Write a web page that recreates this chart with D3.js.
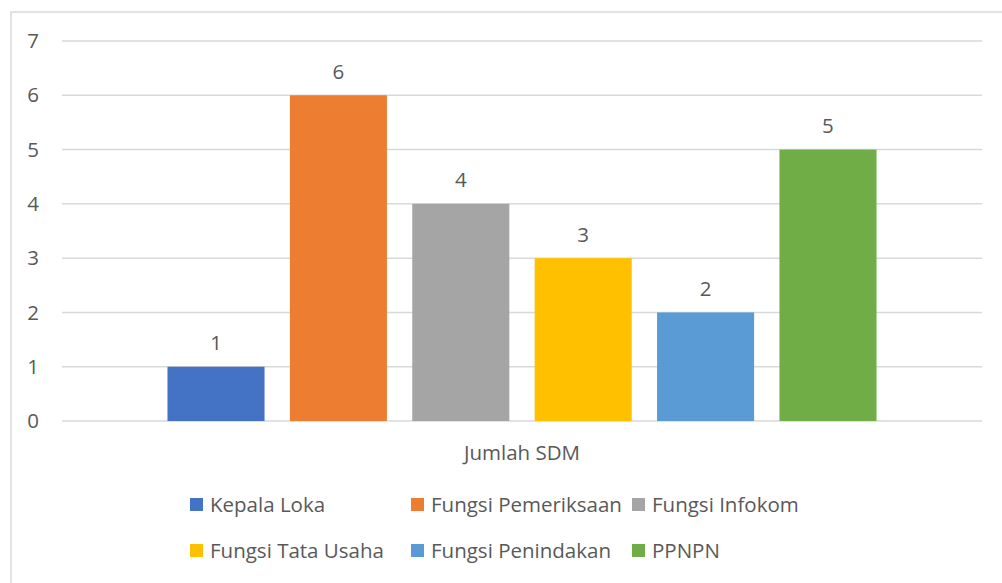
<!DOCTYPE html>
<html>
<head>
<meta charset="utf-8">
<script src="https://cdn.jsdelivr.net/npm/d3@7"></script>
<style>
  body { margin: 0; background: #fff; }
  svg { display: block; font-family: "Open Sans", "Noto Sans", sans-serif; }
</style>
</head>
<body>
<div id="chart"></div>
<script>
'use strict';

// data
const categories = ["Jumlah SDM"];
const seriesNames = ["Kepala Loka", "Fungsi Pemeriksaan", "Fungsi Infokom",
                     "Fungsi Tata Usaha", "Fungsi Penindakan", "PPNPN"];
const seriesValues = [1, 6, 4, 3, 2, 5];
const seriesColors = ["#4472c4", "#ed7d31", "#a5a5a5", "#ffc000", "#5b9bd5", "#70ad47"];
const yTicks = [0, 1, 2, 3, 4, 5, 6, 7];

const W = 1002, H = 583;
const textColor = "#595959";
const fontSize = "20.5px";

let svg = d3.select("#chart").append("svg")
    .attr("width", W)
    .attr("height", H);

// chart frame (only top and left edges fall inside the window)
svg.append("rect")
    .attr("x", 11).attr("y", 12)
    .attr("width", 1100).attr("height", 700)
    .attr("fill", "#fff")
    .attr("stroke", "#d9d9d9")
    .attr("stroke-width", 1.5);

let margin = { left: 62, right: 20, top: 41, bottom: 162 };
let plotW = 982 - margin.left;
let plotH = 421 - margin.top;

let g = svg.append("g").attr("transform", `translate(${margin.left},${margin.top})`);

let y = d3.scaleLinear().domain([0, 7]).range([plotH, 0]);
let x0 = d3.scaleBand().domain(categories).range([0, plotW]).paddingOuter(0.1264);
let x1 = d3.scaleBand().domain(seriesNames).range([0, x0.bandwidth()]).paddingInner(0.207).paddingOuter(0.1035);

// gridlines
g.append("g")
    .selectAll("line")
    .data(yTicks)
    .enter().append("line")
    .attr("x1", 0).attr("x2", plotW)
    .attr("y1", d => y(d)).attr("y2", d => y(d))
    .attr("stroke", "#d9d9d9")
    .attr("stroke-width", 1.5);

// y labels
g.append("g")
    .selectAll("text")
    .data(yTicks)
    .enter().append("text")
    .attr("x", -29)
    .attr("y", d => y(d))
    .attr("dy", "0.35em")
    .attr("text-anchor", "middle")
    .attr("fill", textColor)
    .attr("font-size", fontSize)
    .text(d => d);

let data = seriesNames.map((n, i) => ({ name: n, value: seriesValues[i], color: seriesColors[i], cat: categories[0] }));

let bars = g.append("g");
bars.selectAll("rect")
    .data(data)
    .enter().append("rect")
    .attr("x", d => x0(d.cat) + x1(d.name))
    .attr("y", d => y(d.value))
    .attr("width", x1.bandwidth())
    .attr("height", d => plotH - y(d.value))
    .attr("fill", d => d.color);

bars.selectAll("text")
    .data(data)
    .enter().append("text")
    .attr("x", d => x0(d.cat) + x1(d.name) + x1.bandwidth() / 2)
    .attr("y", d => y(d.value) - 16.5)
    .attr("text-anchor", "middle")
    .attr("fill", textColor)
    .attr("font-size", fontSize)
    .text(d => d.value);

// category label
g.append("text")
    .attr("x", x0(categories[0]) + x0.bandwidth() / 2)
    .attr("y", plotH + 39)
    .attr("text-anchor", "middle")
    .attr("fill", textColor)
    .attr("font-size", fontSize)
    .text(categories[0]);

// legend, 3 columns x 2 rows
let legend = svg.append("g").attr("transform", "translate(190,498)");
let colW = 221, rowH = 46;
let item = legend.selectAll("g")
    .data(data)
    .enter().append("g")
    .attr("transform", (d, i) => `translate(${(i % 3) * colW},${Math.floor(i / 3) * rowH})`);
item.append("rect")
    .attr("x", 0).attr("y", 0)
    .attr("width", 13).attr("height", 13)
    .attr("fill", d => d.color);
item.append("text")
    .attr("x", 20)
    .attr("y", 7)
    .attr("dy", "0.35em")
    .attr("fill", textColor)
    .attr("font-size", fontSize)
    .text(d => d.name);
</script>
</body>
</html>
